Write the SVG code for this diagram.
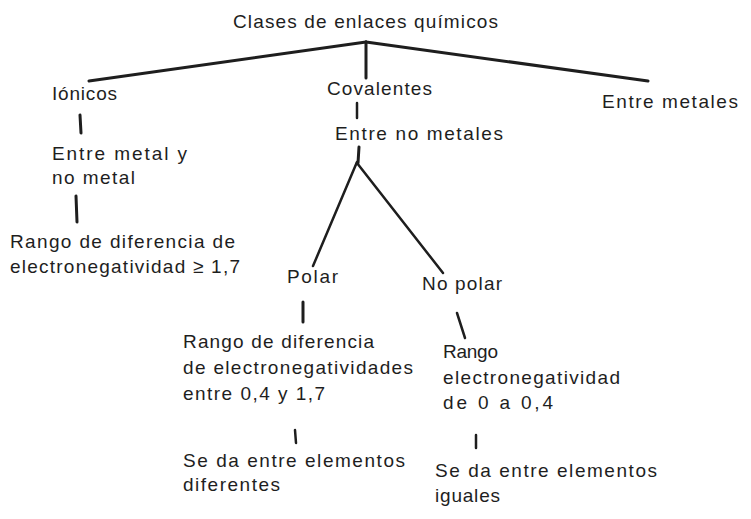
<svg xmlns="http://www.w3.org/2000/svg" width="751" height="519" viewBox="0 0 751 519">
<style>
  .t { font-family: "Liberation Sans", "DejaVu Sans", sans-serif; font-size: 19px; fill: #1e1e1e; }
  .c { stroke: #1e1e1e; fill: none; stroke-linecap: round; stroke-linejoin: round; }
  .thick { stroke-width: 3; }
  .mid { stroke-width: 2.5; }
</style>
<rect x="0" y="0" width="751" height="519" fill="#ffffff"/>
<g id="connectors">
  <line class="c thick" x1="366" y1="42" x2="89" y2="81"/>
  <line class="c thick" x1="366" y1="42" x2="366" y2="78"/>
  <line class="c thick" x1="366" y1="42" x2="648" y2="81"/>
  <line class="c thick" x1="80" y1="115" x2="81" y2="133"/>
  <line class="c thick" x1="76" y1="196" x2="77" y2="222"/>
  <line class="c mid" x1="357" y1="103" x2="357" y2="118"/>
  <line class="c thick" x1="359" y1="147" x2="358" y2="163"/>
  <line class="c mid" x1="357" y1="162" x2="313" y2="266"/>
  <line class="c mid" x1="357" y1="163" x2="443" y2="273"/>
  <line class="c thick" x1="303" y1="302" x2="303" y2="322"/>
  <line class="c mid" x1="457" y1="313" x2="465" y2="338"/>
  <line class="c mid" x1="295" y1="430" x2="296" y2="443"/>
  <line class="c mid" x1="476" y1="435" x2="476" y2="448"/>
</g>
<g id="n-titulo">
  <text class="t" x="233" y="28" textLength="265" lengthAdjust="spacing">Clases de enlaces químicos</text>
</g>
<g id="n-ionicos">
  <text class="t" x="52" y="100" textLength="65" lengthAdjust="spacing">Iónicos</text>
</g>
<g id="n-covalentes">
  <text class="t" x="327" y="95" textLength="105" lengthAdjust="spacing">Covalentes</text>
</g>
<g id="n-entre-metales">
  <text class="t" x="602" y="108" textLength="136" lengthAdjust="spacing">Entre metales</text>
</g>
<g id="n-metal-nometal">
  <text class="t" x="52" y="160" textLength="135" lengthAdjust="spacing">Entre metal y</text>
  <text class="t" x="52" y="184" textLength="83" lengthAdjust="spacing">no metal</text>
</g>
<g id="n-rango-ionico">
  <text class="t" x="10" y="248" textLength="225" lengthAdjust="spacing">Rango de diferencia de</text>
  <text class="t" x="10" y="273" textLength="230" lengthAdjust="spacing">electronegatividad ≥ 1,7</text>
</g>
<g id="n-entre-no-metales">
  <text class="t" x="335" y="140" textLength="168" lengthAdjust="spacing">Entre no metales</text>
</g>
<g id="n-polar">
  <text class="t" x="287" y="283" textLength="51" lengthAdjust="spacing">Polar</text>
</g>
<g id="n-no-polar">
  <text class="t" x="422" y="290" textLength="80" lengthAdjust="spacing">No polar</text>
</g>
<g id="n-rango-polar">
  <text class="t" x="183" y="348" textLength="191" lengthAdjust="spacing">Rango de diferencia</text>
  <text class="t" x="183" y="374" textLength="230" lengthAdjust="spacing">de electronegatividades</text>
  <text class="t" x="183" y="400" textLength="142" lengthAdjust="spacing">entre 0,4 y 1,7</text>
</g>
<g id="n-diferentes">
  <text class="t" x="183" y="467" textLength="222" lengthAdjust="spacing">Se da entre elementos</text>
  <text class="t" x="183" y="491" textLength="97" lengthAdjust="spacing">diferentes</text>
</g>
<g id="n-rango-nopolar">
  <text class="t" x="443" y="358" textLength="55" lengthAdjust="spacing">Rango</text>
  <text class="t" x="443" y="384" textLength="177" lengthAdjust="spacing">electronegatividad</text>
  <text class="t" x="443" y="409" textLength="110" lengthAdjust="spacing">de 0 a 0,4</text>
</g>
<g id="n-iguales">
  <text class="t" x="435" y="477" textLength="222" lengthAdjust="spacing">Se da entre elementos</text>
  <text class="t" x="435" y="502" textLength="65" lengthAdjust="spacing">iguales</text>
</g>
</svg>
